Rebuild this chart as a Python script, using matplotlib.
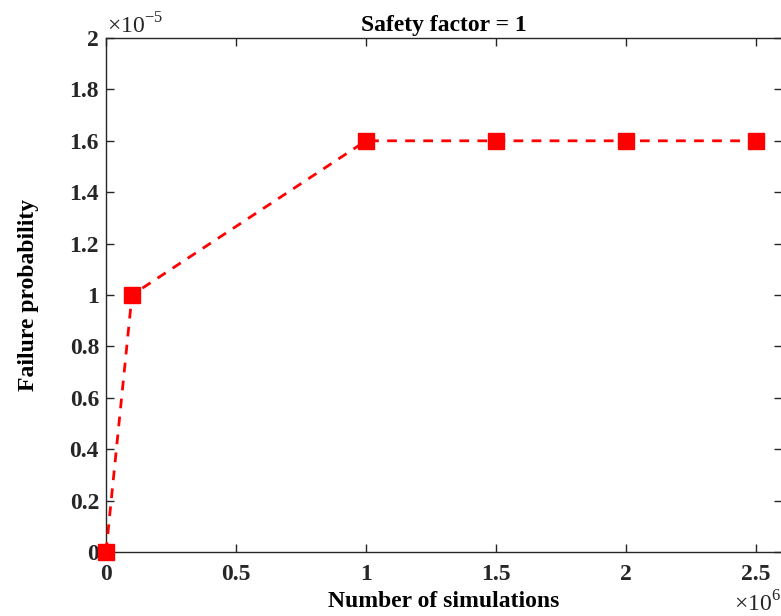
import matplotlib
matplotlib.use("Agg")
import matplotlib.pyplot as plt
from matplotlib.ticker import FuncFormatter, MultipleLocator

plt.rcParams['font.family'] = ['Liberation Serif', 'DejaVu Serif']
plt.rcParams['mathtext.fontset'] = 'custom'
plt.rcParams['mathtext.rm'] = 'Liberation Serif'

n_sim = [0, 1e5, 1e6, 1.5e6, 2e6, 2.5e6]
p_fail = [0, 1.0e-5, 1.6e-5, 1.6e-5, 1.6e-5, 1.6e-5]
title = "Safety factor = 1"
xlabel = "Number of simulations"
ylabel = "Failure probability"

fig = plt.figure(figsize=(7.81, 6.16), dpi=100)
ax = fig.add_axes([0.1357, 0.1039, 0.8656, 0.8344])
ax.plot(n_sim, p_fail, color='red', linestyle='--', linewidth=2,
        marker='s', markersize=11, markerfacecolor='red', markeredgecolor='red',
        clip_on=False, zorder=5, dashes=(3.5, 3))
ax.set_xlim(0, 2.6e6)
ax.set_ylim(0, 2e-5)
ax.xaxis.set_major_locator(MultipleLocator(0.5e6))
ax.yaxis.set_major_locator(MultipleLocator(0.2e-5))
ax.xaxis.set_major_formatter(FuncFormatter(lambda v, p: f"{v/1e6:g}"))
ax.yaxis.set_major_formatter(FuncFormatter(lambda v, p: f"{round(v/1e-5, 6):g}"))
ax.tick_params(direction='in', length=6, width=1, top=True, right=True,
               labelsize=17, colors='#262626')
ax.tick_params(axis='x', pad=9)
ax.tick_params(axis='y', pad=5)
for lab in ax.get_xticklabels() + ax.get_yticklabels():
    lab.set_fontweight('bold')
for s in ax.spines.values():
    s.set_color('#262626')
    s.set_linewidth(1)

ax.set_title(title, fontsize=17, fontweight='bold', pad=5)
ax.set_xlabel(xlabel, fontsize=17, fontweight='bold', labelpad=4)
ax.set_ylabel(ylabel, fontsize=17, fontweight='bold', labelpad=22)

fig.text(107/781, 1 - 34/616, r"$\times 10^{-5}$", fontsize=17, ha='left', va='baseline', color='#262626')
fig.text(781/781, 1 - 612/616, r"$\times 10^{6}$", fontsize=17, ha='right', va='baseline', color='#262626')

fig.savefig("out.png", dpi=100)
